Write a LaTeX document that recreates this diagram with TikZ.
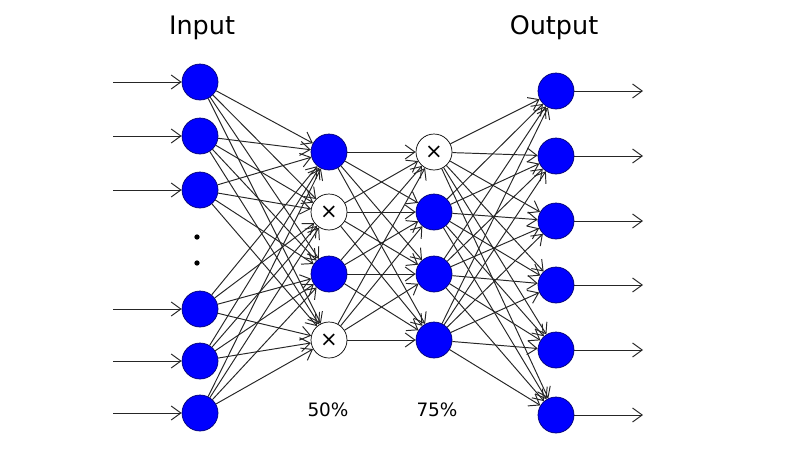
\documentclass[tikz,border=0pt]{standalone}
\usepackage{fontspec}
\setmainfont{DejaVu Sans}
\usepackage{tikz}
\usetikzlibrary{arrows.meta}

\tikzset{
  unit/.style={circle, draw=blue!45!black, fill=blue, minimum size=0.72cm, inner sep=0pt},
  dropped/.style={circle, draw, fill=white, minimum size=0.72cm, inner sep=0pt,
    label={[font=\fontsize{12}{12}\selectfont]center:×}},
  smalldot/.style={circle, fill, inner sep=0pt, minimum size=3pt},
  wire/.style={->, line width=0.55pt, draw=black!85},
}

\begin{document}
\begin{tikzpicture}[x=0.02cm, y=-0.02cm, >={Straight Barb[length=5.5pt,width=8pt]}]
  \useasboundingbox (0,0) rectangle (800,450);
  % layers
  \foreach \y [count=\i] in {82,136,190,309,361,413} {
    \node[unit] (in\i) at (200,\y) {};
    \coordinate (src\i) at (113,\y);
    \draw[wire] (src\i) -- (in\i);
  }
  \foreach \y/\s [count=\i] in {152/unit,212/dropped,274/unit,340/dropped}
    \node[\s] (a\i) at (329,\y) {};
  \foreach \y/\s [count=\i] in {152/dropped,212/unit,274/unit,340/unit}
    \node[\s] (b\i) at (434,\y) {};
  \foreach \y [count=\i] in {91,156,221,285,350,415} {
    \node[unit] (out\i) at (556,\y) {};
    \coordinate (dst\i) at (643,\y);
    \draw[wire] (out\i) -- (dst\i);
  }
  % connections
  \foreach \i in {1,...,6}
    \foreach \j in {1,...,4}
      \draw[wire] (in\i) -- (a\j);
  \foreach \i in {1,...,4}
    \foreach \j in {1,...,4}
      \draw[wire] (a\i) -- (b\j);
  \foreach \i in {1,...,4}
    \foreach \j in {1,...,6}
      \draw[wire] (b\i) -- (out\j);
  % labels
  \node[smalldot] (dotA) at (197,237) {};
  \node[smalldot] (dotB) at (197,263) {};
  \node[font=\fontsize{14.5}{16}\selectfont] (inputlabel) at (202,28) {Input};
  \node[font=\fontsize{14.5}{16}\selectfont] (outputlabel) at (554,28) {Output};
  \node[font=\fontsize{10.5}{12}\selectfont] (rateA) at (328,410) {50\%};
  \node[font=\fontsize{10.5}{12}\selectfont] (rateB) at (437,410) {75\%};
\end{tikzpicture}
\end{document}
